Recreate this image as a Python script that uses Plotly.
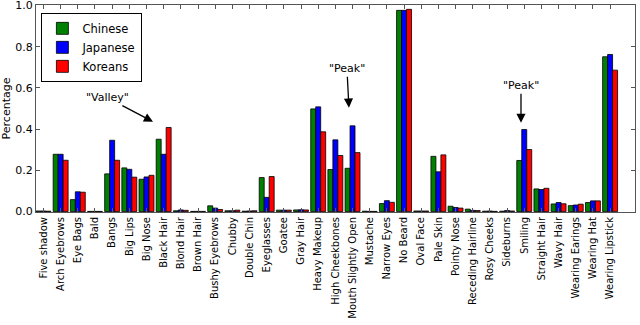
import plotly.graph_objects as go

attributes = ["Five shadow", "Arch Eyebrows", "Eye Bags", "Bald", "Bangs", "Big Lips",
              "Big Nose", "Black Hair", "Blond Hair", "Brown Hair", "Bushy Eyebrows",
              "Chubby", "Double Chin", "Eyeglasses", "Goatee", "Gray Hair",
              "Heavy Makeup", "High Cheekbones", "Mouth Slightly Open", "Mustache",
              "Narrow Eyes", "No Beard", "Oval Face", "Pale Skin", "Pointy Nose",
              "Receding Hairline", "Rosy Cheeks", "Sideburns", "Smiling",
              "Straight Hair", "Wavy Hair", "Wearing Earings", "Wearing Hat",
              "Wearing Lipstick"]

chinese = [0.003, 0.278, 0.058, 0.001, 0.183, 0.212, 0.157, 0.351, 0.004, 0.001, 0.028,
           0.004, 0.002, 0.165, 0.007, 0.008, 0.498, 0.204, 0.210, 0.002, 0.039, 0.976,
           0.003, 0.268, 0.026, 0.012, 0.002, 0.002, 0.248, 0.110, 0.037, 0.029, 0.044,
           0.751]
japanese = [0.003, 0.278, 0.096, 0.001, 0.346, 0.205, 0.168, 0.278, 0.008, 0.001, 0.017,
            0.004, 0.003, 0.069, 0.007, 0.009, 0.508, 0.348, 0.416, 0.001, 0.053, 0.976,
            0.003, 0.193, 0.020, 0.006, 0.003, 0.005, 0.398, 0.107, 0.044, 0.032, 0.052,
            0.762]
koreans = [0.002, 0.249, 0.094, 0.001, 0.249, 0.167, 0.176, 0.408, 0.006, 0.001, 0.010,
           0.007, 0.004, 0.170, 0.007, 0.008, 0.387, 0.272, 0.286, 0.001, 0.045, 0.981,
           0.003, 0.275, 0.017, 0.005, 0.001, 0.003, 0.301, 0.113, 0.038, 0.036, 0.052,
           0.686]

font = "DejaVu Sans"

fig = go.Figure()
for name, vals, col in [("Chinese", chinese, "#008000"),
                        ("Japanese", japanese, "#0000ff"),
                        ("Koreans", koreans, "#ff0000")]:
    fig.add_trace(go.Bar(x=attributes, y=vals, name=name, marker_color=col,
                         marker_line_color="black", marker_line_width=0.8))

# arrows: (head x index, head y, text, text offset in px)
notes = [(6.38, 0.436, '"Valley"', -46, -24),
         (17.79, 0.504, '"Peak"', -2, -39),
         (27.81, 0.431, '"Peak"', 0, -37)]
for hx, hy, txt, ax, ay in notes:
    fig.add_annotation(x=hx, y=hy, text=txt, ax=ax, ay=ay, showarrow=True,
                       arrowhead=2, arrowsize=1.4, arrowwidth=1.3, arrowcolor="black",
                       font=dict(family=font, size=11, color="black"))

fig.update_layout(
    width=640, height=325, barmode="group", bargap=0.13, bargroupgap=0,
    margin=dict(l=36, r=5, t=5, b=113),
    plot_bgcolor="white", paper_bgcolor="white",
    font=dict(family=font, size=10, color="black"),
    legend=dict(x=0.009, y=0.962, xanchor="left", yanchor="top",
                bordercolor="black", borderwidth=1, bgcolor="white",
                font=dict(size=11.5), tracegroupgap=0),
)
fig.update_xaxes(range=[-0.435, 34.45], tickangle=-90, showline=True, mirror="allticks",
                 linecolor="#555", ticks="inside", ticklen=4, tickcolor="#555",
                 tickfont=dict(size=10), automargin=False)
fig.update_yaxes(range=[-0.002, 1.002], tick0=0, dtick=0.2, tickformat=".1f",
                 showline=True, mirror="allticks", linecolor="#555", ticks="inside",
                 ticklen=4, tickcolor="#555", showgrid=False, zeroline=False,
                 tickfont=dict(size=11), automargin=False, ticklabeloverflow="allow",
                 title=dict(text="Percentage", font=dict(size=11), standoff=6))

fig.write_html("out.html", config={"displayModeBar": False},
               post_script="document.body.style.margin='0';")
